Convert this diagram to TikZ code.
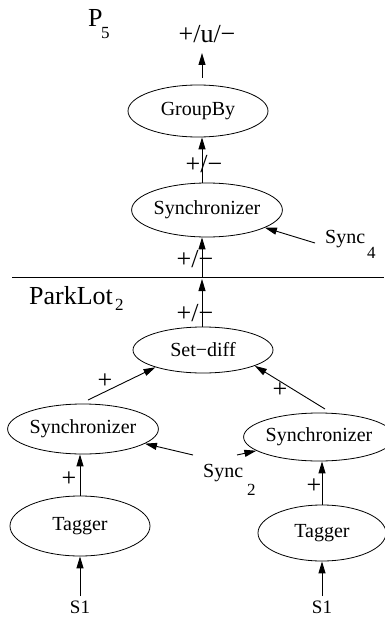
\documentclass[tikz,border=0pt]{standalone}
\usepackage{fontspec}
\setmainfont{Liberation Serif}
\usetikzlibrary{arrows.meta,shapes.geometric}
\begin{document}
\begin{tikzpicture}[x=1pt,y=-1pt,
  op/.style={draw, ellipse, inner sep=0pt, line width=0.8pt, font=\fontsize{20}{22}\selectfont},
  arr/.style={-{Triangle[length=12pt,width=7pt]}, line width=0.9pt},
  lab/.style={font=\fontsize{26}{28}\selectfont, inner sep=0pt, anchor=base},
  plus/.style={font=\fontsize{26}{28}\selectfont, inner sep=0pt},
  big/.style={font=\fontsize{26}{28}\selectfont, inner sep=0pt, anchor=base west},
  sub/.style={font=\fontsize{17}{19}\selectfont, inner sep=0pt, anchor=base west},
  mid/.style={font=\fontsize{20}{22}\selectfont, inner sep=0pt, anchor=base west},
  src/.style={font=\fontsize{19}{21}\selectfont, inner sep=2pt, anchor=base}]
\useasboundingbox (0,0) rectangle (384,623);

% titles
\node[big] (p) at (88,27) {P};
\node[sub] (p5) at (101,39) {5};
\node[big] (pl) at (29,304) {ParkLot};
\node[sub] (pl2) at (115,310) {2};
\coordinate (hl1) at (12,277.7);
\coordinate (hl2) at (384,277.7);
\draw[line width=0.8pt] (hl1) -- (hl2);

% operator nodes
\node[op, minimum width=140pt, minimum height=52pt] (gb) at (198,111) {GroupBy};
\node[op, minimum width=138pt, minimum height=54pt] (sy) at (207,210) {Synchronizer};
\node[op, minimum width=140pt, minimum height=46pt] (sd) at (203,350) {Set−diff};
\node[op, minimum width=140pt, minimum height=50pt] (ls) at (83,429) {Synchronizer};
\node[op, minimum width=128pt, minimum height=48pt] (rs) at (319,437) {Synchronizer};
\node[op, minimum width=140pt, minimum height=60pt] (lt) at (80,526) {Tagger};
\node[op, minimum width=128pt, minimum height=56pt] (rt) at (322,533) {Tagger};

% sources
\node[src] (s1l) at (80,613) {S1};
\node[src] (s1r) at (322,613) {S1};

% sync labels
\node[mid] (sync4) at (325,243) {Sync};
\node[sub] (sync4s) at (367,258) {4};
\node[mid] (sync2) at (203,477) {Sync};
\node[sub] (sync2s) at (247,495) {2};

% output
\node[lab] (out) at (207,43) {+/u/−};
\coordinate (o1) at (202,78);
\coordinate (o1t) at (202,53);
\draw[arr] (o1) -- (o1t);

% vertical chain
\draw[arr] (sy.north -| o1) -- (gb.south -| o1);
\node[lab] (l1) at (204,172) {+/−};
\coordinate (m) at (202,277.7);
\draw[arr] (m) -- (sy.south -| m);
\node[lab] (l2) at (195,267) {+/−};
\coordinate (m2) at (202,279);
\draw[arr] (sd.north -| m) -- (m2);
\node[lab] (l3) at (195,321) {+/−};

% sync 4
\coordinate (s4a) at (315,243);
\draw[arr] (s4a) -- (sy);

% into set-diff
\coordinate (lsa) at (88,400);
\draw[arr] (lsa) -- (sd.-160);
\node[plus] (pl1) at (105,381) {+};
\coordinate (rsa) at (325,409);
\draw[arr] (rsa) -- (sd.-17.5);
\node[plus] (pl2p) at (280,390) {+};

% sync 2
\coordinate (s2l) at (193,455);
\coordinate (s2r) at (237,455);
\draw[arr] (s2l) -- (ls);
\draw[arr] (s2r) -- (rs);

% taggers to synchronizers
\draw[arr] (lt.north) -- (lt.north |- ls.south);
\node[plus] (pt1) at (69,479) {+};
\draw[arr] (rt.north) -- (rt.north |- rs.south);
\node[plus] (pt2) at (314,486) {+};

% sources to taggers
\draw[arr, shorten <=2pt] (s1l.north) -- (lt.south);
\draw[arr, shorten <=2pt] (s1r.north) -- (rt.south);
\end{tikzpicture}
\end{document}
